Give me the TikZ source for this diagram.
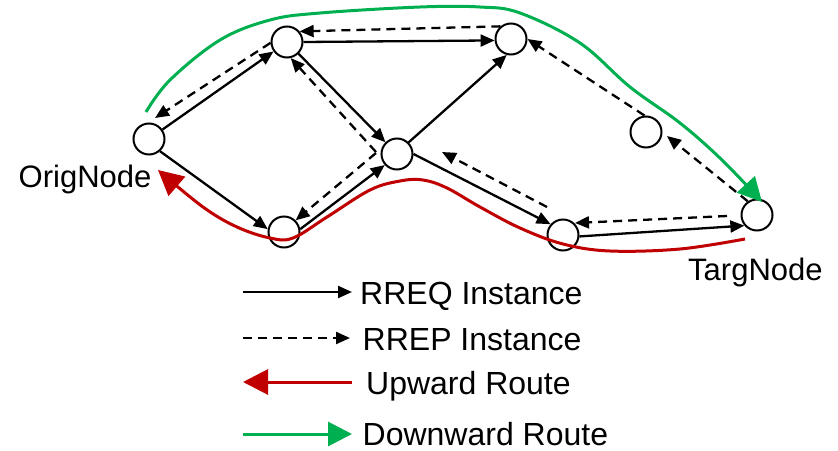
\documentclass[tikz,border=0pt]{standalone}
\usepackage{fontspec}
\setmainfont{Liberation Sans}
\usetikzlibrary{arrows.meta}
\definecolor{rgreen}{HTML}{00B050}
\definecolor{rred}{HTML}{C00000}
\begin{document}
\begin{tikzpicture}[x=1pt,y=-1pt,
  nd/.style={circle,draw,line width=2pt,minimum size=31pt,inner sep=0pt,fill=white},
  rreq/.style={line width=2.3pt,-{Triangle[length=14pt,width=12pt]}},
  rrep/.style={rreq,dash pattern=on 9pt off 6pt},
  upr/.style={line width=3pt,color=rred,-{Triangle[length=25pt,width=25pt]}},
  dnr/.style={line width=3pt,color=rgreen,-{Triangle[length=24pt,width=24pt]}},
  lab/.style={inner sep=0pt,anchor=base west,font=\fontsize{31}{36}\selectfont},
  leg/.style={inner sep=0pt,anchor=base west,font=\fontsize{32}{36}\selectfont}]
\useasboundingbox (0,0) rectangle (838,450);

% nodes
\node[nd] (O)  at (149,139) {};
\node[nd] (N1) at (287,42) {};
\node[nd] (N2) at (511,39) {};
\node[nd] (N3) at (397,154) {};
\node[nd] (N4) at (284,232) {};
\node[nd] (N5) at (646,132) {};
\node[nd] (N6) at (563,235) {};
\node[nd] (T)  at (757,215) {};

% RREQ (solid)
\draw[rreq] (O) -- (N1);
\draw[rreq] (O.312) -- (N4.170);
\draw[rreq] (N1) -- (N3);
\draw[rreq] (N4.10) -- (N3.222);
\draw[rreq] (N1.east) -- (N2.185);
\draw[rreq] (N3.45) -- (N2.255);
\draw[rreq] (N3.east) -- (N6.139);
\draw[rreq] (N6.355) -- (T.220);

% RREP (dashed)
\draw[rrep] (N2.130) -- (N1.40);
\draw[rrep] (N1.183) -- ([shift={(6,-21)}]O.center);
\draw[rrep] ([shift={(-21,-2)}]N3.center) -- (N1.283);
\draw[rrep] ([shift={(-21,-1)}]N3.center) -- (N4.45);
\draw[rrep] ([shift={(-16,-28)}]N6.center) -- ([shift={(45,-2)}]N3.center);
\draw[rrep] ([shift={(-30,1)}]T.center) -- ([shift={(12,-12)}]N6.center);
\draw[rrep] (T.124) -- ([shift={(21,4)}]N5.center);
\draw[rrep] (N5.95) -- (N2.east);

% routes
\draw[upr] plot[smooth,tension=0.6] coordinates {(745,239) (680,249) (610,251) (563,244) (520,228) (480,207) (447,188) (423,180) (400,181) (370,190) (327,217) (293,238) (270,238) (237,227) (203,207) (158,170)};
\draw[dnr] plot[smooth,tension=0.6] coordinates {(146,112) (170,80) (220,40) (270,20) (320,13) (420,7) (480,7) (520,13) (580,43) (630,87) (680,123) (722,160) (762,202)};

% labels
\node[lab] (lO) at (18.5,187) {OrigNode};
\node[lab] (lT) at (688,280.5) {TargNode};

% legend
\coordinate (a1) at (243,292); \coordinate (b1) at (352,292);
\coordinate (a2) at (243,338); \coordinate (b2) at (350,338);
\coordinate (a3) at (352,382); \coordinate (b3) at (243,382);
\coordinate (a4) at (243,434); \coordinate (b4) at (352,434);
\draw[rreq] (a1) -- (b1);
\draw[rrep] (a2) -- (b2);
\draw[upr] (a3) -- (b3);
\draw[dnr] (a4) -- (b4);
\node[leg] (t1) at (360,304.5) {RREQ Instance};
\node[leg] (t2) at (362.5,350.5) {RREP Instance};
\node[leg] (t3) at (366,394) {Upward Route};
\node[leg] (t4) at (362.5,445.5) {Downward Route};
\end{tikzpicture}
\end{document}
